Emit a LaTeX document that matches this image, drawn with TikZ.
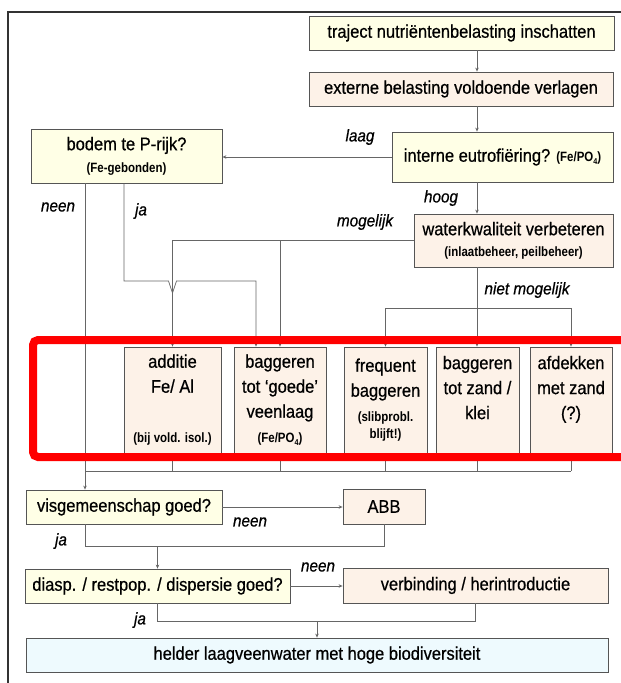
\documentclass[tikz,border=0pt]{standalone}
\usepackage{fontspec}
\setmainfont[FakeStretch=0.9, FakeBold=0.6]{Liberation Sans}
\newfontfamily\narrowfont[FakeStretch=0.85]{Liberation Sans}
\usetikzlibrary{arrows.meta}
\definecolor{decfill}{HTML}{FFFFE6}
\definecolor{actfill}{HTML}{FDF2E8}
\definecolor{endfill}{HTML}{EEFAFE}
\definecolor{boxline}{HTML}{555555}
\definecolor{conline}{HTML}{666666}
\definecolor{framecol}{HTML}{333333}
\newcommand{\smallb}{\narrowfont\bfseries\fontsize{13.5}{15}\selectfont}
\newcommand{\subfour}{\raisebox{-0.4ex}{\fontsize{8.5}{8.5}\selectfont 4}}

\begin{document}
\begin{tikzpicture}[x=1pt, y=-1pt,
    box/.style={draw=boxline, line width=0.8pt, inner sep=0pt, align=center,
      font=\fontsize{18.3}{25}\selectfont},
    decbox/.style={box, fill=decfill},
    actbox/.style={box, fill=actfill},
    endbox/.style={box, fill=endfill},
    link/.style={draw=conline, line width=0.7pt},
    arr/.style={link, -{Stealth[length=4pt, width=3.5pt]}},
    lbl/.style={font=\fontsize{17}{18}\selectfont\itshape, inner sep=0pt}]
    \useasboundingbox (0,0) rectangle (621,683);
    % outer frame, cut off at right and bottom
    \draw[framecol, line width=1.2pt] (8,700) -- (8,12) -- (640,12);
    % main chain at the right
    \node[decbox, minimum width=305, minimum height=34] (traj) at (461.5,33) {traject nutriëntenbelasting inschatten};
    \node[actbox, minimum width=304, minimum height=34] (ext) at (461,89) {externe belasting voldoende verlagen};
    \node[decbox, minimum width=221, minimum height=50] (intern) at (502.5,157) {interne eutrofiëring? {\smallb (Fe/PO\subfour)}};
    \node[decbox, minimum width=191, minimum height=54] (bodem) at (126.5,156) {bodem te P-rijk?\\[-3pt]{\smallb (Fe-gebonden)}};
    \node[actbox, minimum width=199, minimum height=53] (water) at (513.5,240.5) {waterkwaliteit verbeteren\\[-4pt]{\smallb (inlaatbeheer, peilbeheer)}};
    % row of measures
    \node[actbox, minimum width=97, minimum height=106] (add) at (172.5,400) {additie\\Fe/ Al\\\mbox{}\\{\smallb (bij vold. isol.)}};
    \node[actbox, minimum width=92, minimum height=106] (bagg1) at (280,400) {baggeren\\tot ‘goede’\\veenlaag\\{\smallb (Fe/PO\subfour)}};
    \node[actbox, minimum width=83, minimum height=106] (freq) at (385.5,400) {frequent\\baggeren\\{\smallb (slibprobl.}\\[-8pt]{\smallb blijft!)}};
    \node[actbox, minimum width=83, minimum height=106] (bagg2) at (477.5,400) {baggeren\\tot zand /\\klei\\\mbox{}};
    \node[actbox, minimum width=82, minimum height=106] (afdek) at (571,400) {afdekken\\met zand\\(?)\\\mbox{}};
    % lower part
    \node[decbox, minimum width=196, minimum height=34] (vis) at (124,507) {visgemeenschap goed?};
    \node[actbox, minimum width=82, minimum height=35] (abb) at (384,506.5) {ABB};
    \node[decbox, minimum width=265, minimum height=34] (diasp) at (157.5,586) {diasp. / restpop. / dispersie goed?};
    \node[actbox, minimum width=265, minimum height=35] (verb) at (475.5,585.5) {verbinding / herintroductie};
    \node[endbox, minimum width=582, minimum height=34] (helder) at (317,655) {helder laagveenwater met hoge biodiversiteit};
    % helper points for the lines
    \coordinate (spine) at (477,0);
    \coordinate (neenx) at (85,0);
    \coordinate (jaA) at (124,281);
    \coordinate (bag1in) at (256,0);
    \coordinate (nm) at (0,308);
    \coordinate (collect) at (0,471);
    \coordinate (visja) at (0,546);
    \coordinate (djal) at (0,621);
    % connectors
    \draw[arr] (traj.south -| spine) -- (ext.north -| spine);
    \draw[arr] (ext.south -| spine) -- (intern.north -| spine);
    \draw[arr] (intern.west) -- (intern.west -| bodem.east);
    \draw[arr] (intern.south -| spine) -- (water.north -| spine);
    \draw[arr] (water.west) -| (add.north);
    \draw[arr] (water.west -| bagg1.north) -- (bagg1.north);
    \draw[arr] (bodem.south -| jaA) -- (jaA) -- ++(44.5,0) -- ++(4,12) -- ++(4,-12) -- (jaA -| bag1in) -- (bagg1.north -| bag1in);
    \draw[arr] (water.south -| spine) -- (bagg2.north -| spine);
    \draw[link] (freq.north |- nm) -- (afdek.north |- nm);
    \draw[arr] (freq.north |- nm) -- (freq.north);
    \draw[arr] (afdek.north |- nm) -- (afdek.north);
    \foreach \n in {add,bagg1,freq,bagg2,afdek}
      \draw[link] (\n.south) -- (\n.south |- collect);
    \draw[link] (bodem.south -| neenx) -- (neenx |- collect) -- (afdek.south |- collect);
    \draw[arr] (neenx |- collect) -- (vis.north -| neenx);
    \draw[arr] (vis.east) -- (vis.east -| abb.west);
    \draw[link] (vis.south -| neenx) -- (neenx |- visja) -- (abb.south |- visja) -- (abb.south);
    \draw[arr] (diasp.north |- visja) -- (diasp.north);
    \draw[arr] (diasp.east) -- (diasp.east -| verb.west);
    \draw[link] (diasp.south) -- (diasp.south |- djal) -- (verb.south |- djal) -- (verb.south);
    \draw[arr] (helder.north |- djal) -- (helder.north);
    % labels
    \node[lbl] (laag) at (360,137) {laag};
    \node[lbl] (hoog) at (441,198) {hoog};
    \node[lbl] (mogl) at (365,222) {mogelijk};
    \node[lbl] (nietmogl) at (527,290) {niet mogelijk};
    \node[lbl] (neen1) at (58,207) {neen};
    \node[lbl] (ja1) at (141,211) {ja};
    \node[lbl] (neen2) at (250,522) {neen};
    \node[lbl] (ja2) at (61,541) {ja};
    \node[lbl] (neen3) at (318,567) {neen};
    \node[lbl] (ja3) at (140,620) {ja};
    % red marking round the measures
    \draw[red, line width=8pt, rounded corners=5pt] (33,340) rectangle (660,457);
\end{tikzpicture}
\end{document}
